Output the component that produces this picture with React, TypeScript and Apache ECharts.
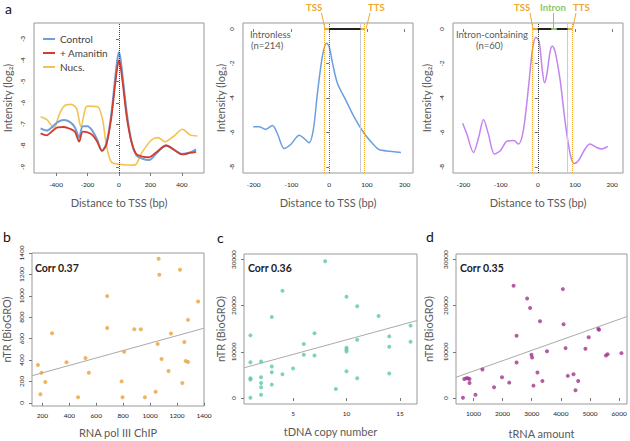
import React, { useEffect, useRef } from "react";
import * as echarts from "echarts";

const FONT = "Lato, 'Open Sans', sans-serif";

// ---- Panel a (left): metagene profile around TSS ----
const profileX = [-498, -460, -420, -390, -350, -310, -280, -253, -230, -200, -170, -140, -108, -80, -50, -25, -10, 0, 10, 25, 50, 80, 110, 150, 190, 240, 300, 350, 400, 450, 490];
const controlY = [-7.2, -7.3, -7.1, -6.9, -6.8, -6.9, -7.15, -7.62, -7.1, -7.1, -7.3, -7.7, -8.25, -7.9, -6.6, -4.9, -3.95, -3.62, -3.95, -4.9, -6.5, -7.85, -8.45, -8.62, -8.68, -8.35, -8.0, -8.2, -8.4, -8.33, -8.18];
const amanitinY = [-7.43, -7.52, -7.3, -7.15, -7.13, -7.22, -7.35, -7.82, -7.35, -7.38, -7.5, -7.8, -8.25, -7.95, -6.75, -5.15, -4.3, -4.0, -4.3, -5.15, -6.7, -7.85, -8.4, -8.52, -8.55, -8.3, -8.0, -8.2, -8.42, -8.35, -8.3];
const nucX = [-498, -456, -413, -381, -349, -306, -270, -242, -214, -200, -136, -104, -82, -50, 3, 99, 142, 206, 248, 291, 344, 404, 451, 498];
const nucY = [-6.65, -6.8, -7.19, -6.57, -6.15, -6.07, -6.26, -7.12, -6.26, -6.15, -6.18, -6.8, -7.9, -8.76, -8.88, -8.92, -8.37, -7.74, -7.63, -7.82, -7.59, -7.24, -7.5, -7.55];
const profileTicksX = [-400, -200, 0, 200, 400];
const profileTicksY = [-9, -8, -7, -6, -5, -4, -3];

// ---- Panel a (middle): intronless genes ----
const intronlessX = [-201, -185, -168, -150, -137, -119, -101, -79, -66, -53, -42, -31, -18, -7, 0, 9, 22, 44, 66, 93, 115, 132, 159, 190];
const intronlessY = [-5.67, -5.67, -5.82, -5.59, -6.06, -6.93, -6.68, -6.16, -6.35, -6.6, -5.87, -3.73, -1.6, -0.82, -1.01, -1.98, -3.15, -4.12, -5.09, -6.06, -6.64, -6.99, -7.09, -7.16];
const intronlessBounds = [-13, 0, 83, 94]; // TSS flank, TSS, gene end, TTS

// ---- Panel a (right): intron-containing genes ----
const intronX = [-202, -191, -173, -159, -146, -133, -116.5, -101, -83, -65, -52, -39, -25, -14.5, -5, 3.5, 12, 18, 24, 33, 39, 46.5, 60, 73, 87, 98, 109, 127, 140, 158, 172, 188];
const intronY = [-5.46, -6.08, -7.16, -6.28, -5.25, -6.08, -7.25, -7.06, -6.51, -6.47, -6.67, -5.89, -3.36, -1.21, -0.47, -0.72, -2.38, -3.12, -2.67, -1.31, -0.98, -1.31, -2.96, -5.3, -7.25, -7.8, -7.64, -6.96, -6.67, -6.87, -6.96, -6.81];
const intronBounds = [-14.5, 0, 36, 51, 80, 93]; // TSS flank, TSS, intron start, intron end, gene end, TTS
const geneTicksX = [-200, -100, 0, 100, 200];
const geneTicksY = [-8, -6, -4, -2, 0];

// ---- Panel b ----
const polX = [167, 193, 185, 222, 272, 379, 465, 520, 545, 681, 681, 788, 795, 807, 882, 931, 961, 1041, 1056, 1063, 1068, 1085, 1155, 1137, 1222, 1239, 1254, 1264, 1281, 1281, 1356];
const polY = [353, 281, 79, 194, 650, 379, 51, 419, 281, 997, 700, 200, 51, 478, 688, 688, 51, 103, 550, 1347, 1197, 410, 647, 297, 1244, 185, 569, 391, 381, 775, 947];
const polTicksX = [200, 400, 600, 800, 1000, 1200, 1400];
const polTicksY = [0, 200, 400, 600, 800, 1000, 1200, 1400];
const polFit = [210, 0.348];

// ---- Panel c ----
const copyX = [1, 1, 1, 1, 1, 2, 2, 2, 2, 2, 3, 3, 3, 3, 4, 4, 5, 6, 6, 7, 7, 8, 9, 10, 10, 10, 10, 10, 11, 11, 11, 13, 14, 14, 14, 16, 16];
const copyY = [13570, 7760, 4270, 3990, 70, 7910, 4490, 3270, 2310, 720, 17560, 6820, 5580, 2900, 23230, 5140, 6380, 11680, 9370, 14010, 9220, 29630, 1960, 21920, 10890, 10520, 10090, 5800, 19890, 12640, 4270, 17780, 13350, 11110, 5290, 15680, 12200];
const copyTicksX = [5, 10, 15];
const copyFit = [6290, 632];

// ---- Panel d ----
const trnaX = [639, 683, 751, 809, 864, 864, 1068, 1307, 1706, 1979, 2227, 2377, 2480, 2480, 2841, 2943, 2990, 3012, 3059, 3196, 3284, 3366, 3523, 4069, 4093, 4161, 4239, 4433, 4502, 4594, 4843, 4955, 5286, 5310, 5548, 5603, 6080];
const trnaY = [70, 4130, 4270, 4270, 4130, 3270, 720, 6170, 2310, 4490, 3330, 24310, 13500, 7690, 21560, 19520, 9370, 8780, 2680, 5510, 16620, 3700, 10150, 23590, 15970, 10810, 4790, 5140, 1660, 3700, 10670, 13140, 14950, 14810, 9220, 9500, 9720];
const trnaTicksX = [1000, 2000, 3000, 4000, 5000, 6000];
const trnaFit = [3593, 2.242];
const nTRTicks = [0, 10000, 20000, 30000];

const corrLabels = ["Corr 0.37", "Corr 0.36", "Corr 0.35"];

const zip = (xs: number[], ys: number[]) => xs.map((x, i) => [x, ys[i]]);

const GRAY = "#5a5a5a";
const ORANGE = "#f0a830";
const GREEN = "#8cc66a";
const plain = (v: number) => String(v);

function xAx(gi: number, min: number, max: number, ticks: number[], name: string, nameGap: number, margin: number) {
  return {
    type: "value", gridIndex: gi, min, max, name, nameLocation: "middle", nameGap,
    nameTextStyle: { fontSize: 11, color: GRAY, fontFamily: FONT },
    axisLine: { show: false },
    axisTick: { show: true, customValues: ticks, length: 3, lineStyle: { color: "#777" } },
    axisLabel: { customValues: ticks, fontSize: 6.5, color: "#222", margin, fontFamily: FONT, formatter: plain },
    splitLine: { show: false },
  };
}
function yAx(gi: number, min: number, max: number, ticks: number[], name: string, nameGap: number, margin: number) {
  return {
    type: "value", gridIndex: gi, min, max, name, nameLocation: "middle", nameGap, nameRotate: 90,
    nameTextStyle: { fontSize: 11, color: GRAY, fontFamily: FONT },
    axisLine: { show: false },
    axisTick: { show: true, customValues: ticks, length: 3, lineStyle: { color: "#777" } },
    axisLabel: { customValues: ticks, fontSize: 6.5, color: "#222", margin, rotate: 90, fontFamily: FONT, formatter: plain },
    splitLine: { show: false },
  };
}

const gridBase = { show: true, borderColor: "#999", borderWidth: 1, backgroundColor: "transparent", containLabel: false };

const A1X: [number, number] = [-540, 540];
const GX2: [number, number] = [-228, 222];
const GX3: [number, number] = [-228, 229];
const BX: [number, number] = [123, 1400];
const CX: [number, number] = [0.4, 16.6];
const DX: [number, number] = [400, 6270];

function fitLine(fit: number[], range: [number, number]) {
  return range.map((x) => [x, fit[0] + fit[1] * x]);
}

function scatter(gi: number, xs: number[], ys: number[], color: string) {
  return {
    type: "scatter", xAxisIndex: gi, yAxisIndex: gi, data: zip(xs, ys), symbolSize: 4,
    itemStyle: { color }, silent: true,
  };
}
function fit(gi: number, f: number[], range: [number, number]) {
  return {
    type: "line", xAxisIndex: gi, yAxisIndex: gi, data: fitLine(f, range), symbol: "none",
    lineStyle: { color: "#aaa", width: 1 }, silent: true, z: 1,
  };
}

const dotted = (color: string) => ({ color, type: "dotted", width: 1 });
const letter = (t: string, left: number, top: number) => ({
  type: "text", left, top, style: { text: t, fontSize: 14, fill: "#111", fontFamily: FONT },
});

export default function App() {
  const ref = useRef<HTMLDivElement>(null);
  useEffect(() => {
    document.body.style.margin = "0";
    const chart = echarts.init(ref.current!, null, { renderer: "svg" });
    const option: any = {
      animation: false,
      textStyle: { fontFamily: FONT },
      grid: [
        { ...gridBase, left: 34, top: 23, width: 170, height: 150 },
        { ...gridBase, left: 243, top: 23, width: 170, height: 150 },
        { ...gridBase, left: 453, top: 23, width: 170, height: 150 },
        { ...gridBase, left: 32, top: 253, width: 172, height: 153 },
        { ...gridBase, left: 244, top: 254, width: 173, height: 150 },
        { ...gridBase, left: 456, top: 254, width: 171, height: 150 },
      ],
      xAxis: [
        xAx(0, A1X[0], A1X[1], profileTicksX, "Distance to TSS (bp)", 24, 8),
        xAx(1, GX2[0], GX2[1], geneTicksX, "Distance to TSS (bp)", 24, 8),
        xAx(2, GX3[0], GX3[1], geneTicksX, "Distance to TSS (bp)", 24, 8),
        xAx(3, BX[0], BX[1], polTicksX, "RNA pol III ChIP", 21, 6),
        xAx(4, CX[0], CX[1], copyTicksX, "tDNA copy number", 22, 6),
        xAx(5, DX[0], DX[1], trnaTicksX, "tRNA amount", 24, 6),
      ],
      yAxis: [
        yAx(0, -9.29, -2.25, profileTicksY, "Intensity (log₂)", 21, 8),
        yAx(1, -8.35, 0.35, geneTicksY, "Intensity (log₂)", 17, 8),
        yAx(2, -8.35, 0.35, geneTicksY, "Intensity (log₂)", 21, 8),
        yAx(3, -30, 1400, polTicksY, "nTR (BioGRO)", 20, 7),
        yAx(4, -1300, 31200, nTRTicks, "nTR (BioGRO)", 18, 7),
        yAx(5, -1300, 31200, nTRTicks, "nTR (BioGRO)", 22, 7),
      ],
      legend: {
        data: ["Control", "+ Amanitin", "Nucs."],
        left: 38, top: 29, orient: "vertical", itemGap: 4, itemWidth: 12, itemHeight: 2,
        icon: "rect", textStyle: { fontSize: 10, color: "#444", fontFamily: FONT },
      },
      series: [
        {
          type: "line", name: "Nucs.", xAxisIndex: 0, yAxisIndex: 0, data: zip(nucX, nucY),
          smooth: 0.3, symbol: "none", lineStyle: { color: "#f2c352", width: 1.6 }, itemStyle: { color: "#f2c352" },
        },
        {
          type: "line", name: "Control", xAxisIndex: 0, yAxisIndex: 0, data: zip(profileX, controlY),
          smooth: 0.3, symbol: "none", lineStyle: { color: "#729fdb", width: 2 }, itemStyle: { color: "#729fdb" },
        },
        {
          type: "line", name: "+ Amanitin", xAxisIndex: 0, yAxisIndex: 0, data: zip(profileX, amanitinY),
          smooth: 0.3, symbol: "none", lineStyle: { color: "#cf3d2c", width: 1.8 }, itemStyle: { color: "#cf3d2c" },
          markLine: {
            silent: true, symbol: ["none", "none"], label: { show: false },
            lineStyle: dotted("#444"), data: [{ xAxis: 0 }],
          },
        },
        {
          type: "line", xAxisIndex: 1, yAxisIndex: 1, data: zip(intronlessX, intronlessY),
          smooth: 0.3, symbol: "none", lineStyle: { color: "#6c9fe0", width: 1.5 }, z: 3,
          markLine: {
            silent: true, symbol: ["none", "none"], label: { show: false },
            data: [
              { xAxis: intronlessBounds[0], lineStyle: dotted(ORANGE) },
              { xAxis: intronlessBounds[3], lineStyle: dotted(ORANGE) },
              { xAxis: intronlessBounds[2], lineStyle: { color: "#c4cde0", width: 1, type: "solid" } },
              { xAxis: intronlessBounds[1], lineStyle: dotted("#666") },
              [{ coord: [intronlessBounds[0], 0], lineStyle: { color: ORANGE, width: 2, type: "solid" } }, { coord: [intronlessBounds[3], 0] }],
              [{ coord: [intronlessBounds[1], 0], lineStyle: { color: "#222", width: 2, type: "solid" } }, { coord: [intronlessBounds[2], 0] }],
            ],
          },
        },
        {
          type: "line", xAxisIndex: 2, yAxisIndex: 2, data: zip(intronX, intronY),
          smooth: 0.3, symbol: "none", lineStyle: { color: "#c483f0", width: 1.5 }, z: 3,
          markLine: {
            silent: true, symbol: ["none", "none"], label: { show: false },
            data: [
              { xAxis: intronBounds[0], lineStyle: dotted(ORANGE) },
              { xAxis: intronBounds[5], lineStyle: dotted(ORANGE) },
              { xAxis: intronBounds[4], lineStyle: { color: "#c4cde0", width: 1, type: "solid" } },
              { xAxis: intronBounds[1], lineStyle: dotted("#444") },
              [{ coord: [intronBounds[0], 0], lineStyle: { color: ORANGE, width: 2, type: "solid" } }, { coord: [intronBounds[5], 0] }],
              [{ coord: [intronBounds[1], 0], lineStyle: { color: "#222", width: 2, type: "solid" } }, { coord: [intronBounds[4], 0] }],
              [{ coord: [intronBounds[2], 0], lineStyle: { color: GREEN, width: 2, type: "solid" } }, { coord: [intronBounds[3], 0] }],
            ],
          },
        },
        fit(3, polFit, BX),
        scatter(3, polX, polY, "#e9a23b"),
        fit(4, copyFit, CX),
        scatter(4, copyX, copyY, "#5ccaa5"),
        fit(5, trnaFit, DX),
        scatter(5, trnaX, trnaY, "#a3338f"),
      ],
      graphic: [
        letter("a", 5, 1),
        letter("b", 3, 229),
        letter("c", 217, 230),
        letter("d", 426, 229),
        { type: "text", left: 35, top: 262, style: { text: corrLabels[0], fontSize: 10.5, fontWeight: "bold", fill: "#222", fontFamily: FONT } },
        { type: "text", left: 248, top: 262, style: { text: corrLabels[1], fontSize: 10.5, fontWeight: "bold", fill: "#222", fontFamily: FONT } },
        { type: "text", left: 460, top: 262, style: { text: corrLabels[2], fontSize: 10.5, fontWeight: "bold", fill: "#222", fontFamily: FONT } },
        { type: "text", left: 250, top: 29, style: { text: "Intronless", fontSize: 9.5, fill: GRAY, fontFamily: FONT } },
        { type: "text", left: 251, top: 40, style: { text: "(n=214)", fontSize: 9.5, fill: GRAY, fontFamily: FONT } },
        { type: "text", left: 456, top: 29, style: { text: "Intron-containing", fontSize: 9.5, fill: GRAY, fontFamily: FONT } },
        { type: "text", left: 476, top: 40, style: { text: "(n=60)", fontSize: 9.5, fill: GRAY, fontFamily: FONT } },
        { type: "text", left: 306, top: 2, style: { text: "TSS", fontSize: 9.5, fontWeight: "bold", fill: ORANGE, fontFamily: FONT } },
        { type: "text", left: 368, top: 2, style: { text: "TTS", fontSize: 9.5, fontWeight: "bold", fill: ORANGE, fontFamily: FONT } },
        { type: "text", left: 514, top: 2, style: { text: "TSS", fontSize: 9.5, fontWeight: "bold", fill: ORANGE, fontFamily: FONT } },
        { type: "text", left: 540, top: 2, style: { text: "Intron", fontSize: 9.5, fontWeight: "bold", fill: GREEN, fontFamily: FONT } },
        { type: "text", left: 573, top: 2, style: { text: "TTS", fontSize: 9.5, fontWeight: "bold", fill: ORANGE, fontFamily: FONT } },
        { type: "line", shape: { x1: 321.5, y1: 13, x2: 325, y2: 29 }, style: { stroke: ORANGE, lineWidth: 1 } },
        { type: "line", shape: { x1: 370, y1: 13, x2: 366, y2: 29 }, style: { stroke: ORANGE, lineWidth: 1 } },
        { type: "line", shape: { x1: 530, y1: 13, x2: 533, y2: 29 }, style: { stroke: ORANGE, lineWidth: 1 } },
        { type: "line", shape: { x1: 576, y1: 13, x2: 572.5, y2: 29 }, style: { stroke: ORANGE, lineWidth: 1 } },
        { type: "line", shape: { x1: 553.5, y1: 13, x2: 553.5, y2: 29 }, style: { stroke: GREEN, lineWidth: 1 } },
      ],
    };
    chart.setOption(option);
    return () => chart.dispose();
  }, []);
  return <div ref={ref} style={{ width: 630, height: 441 }} />;
}
